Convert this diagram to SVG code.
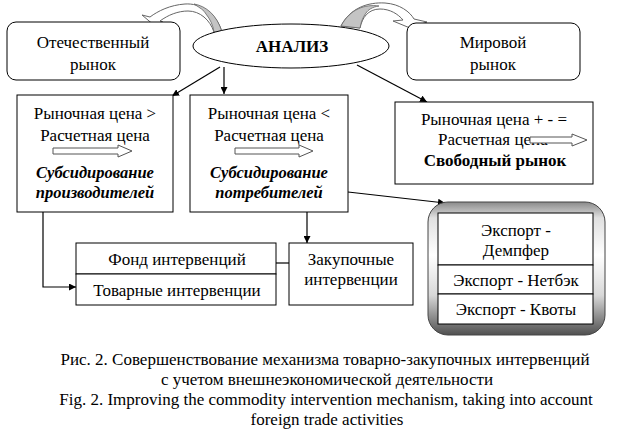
<svg xmlns="http://www.w3.org/2000/svg" width="629" height="444" viewBox="0 0 629 444" font-family="'Liberation Serif','DejaVu Serif',serif">
<defs>
<style>
text{font-family:'Liberation Serif','DejaVu Serif',serif;font-size:17px;fill:#000}
.b{font-weight:bold}
.bi{font-weight:bold;font-style:italic;font-size:16.5px}
.c{text-anchor:middle}
.box{fill:#fff;stroke:#000;stroke-width:1}
.ln{fill:none;stroke:#000;stroke-width:1.2}
.ha{fill:#fff;stroke:#555;stroke-width:1}
.ca{fill:#fff;stroke:#666;stroke-width:1}
.cg{fill:#c4c4c4;stroke:#666;stroke-width:0.8}
.cap{font-size:17px}
</style>
<marker id="ah" viewBox="0 0 10 10" refX="10" refY="5" markerWidth="7" markerHeight="7" orient="auto" markerUnits="userSpaceOnUse">
<path d="M0,0 L10,5 L0,10 Z" fill="#000"/>
</marker>
<linearGradient id="eg" x1="0" y1="0" x2="0" y2="1">
<stop offset="0" stop-color="#8a8a8a"/>
<stop offset="0.12" stop-color="#e0e0e0"/>
<stop offset="0.4" stop-color="#ffffff"/>
<stop offset="0.7" stop-color="#d8d8d8"/>
<stop offset="1" stop-color="#505050"/>
</linearGradient>
</defs>

<g id="curved-arrows">
<path class="ca" d="M222,32 C216,12 200,3 185,4 C170,5 158,11 150,17 L142,15 L155,26 L163,22 L160,21 C168,15 178,11 188,11 C200,11 210,20 214,32 Z"/>
<path class="cg" d="M222,32 C217,15 206,6 194,4 C200,8 204,10 206,14 C210,19 213,25 214,32 Z"/>
<path class="ca" d="M341,26 C350,8 368,2 385,3 C400,4 410,12 414,19 L427,22 L410,28 L393,21 L403,20 C398,14 390,9 380,9 C368,9 362,18 360,28 Z"/>
<path class="cg" d="M341,26 C350,9 365,4 379,6 C372,7 368,10 366,13 C363,17 361,22 360,28 Z"/>
</g>

<g id="domestic">
<rect class="box" x="7" y="22" width="173" height="58" rx="9"/>
<text class="c" x="93" y="48">Отечественный</text>
<text class="c" x="93" y="70">рынок</text>
</g>

<g id="world">
<rect class="box" x="407" y="23" width="173" height="57" rx="9"/>
<text class="c" x="493" y="48">Мировой</text>
<text class="c" x="493" y="70">рынок</text>
</g>

<g id="connectors">
<line class="ln" x1="220" y1="67" x2="172" y2="96" marker-end="url(#ah)"/>
<line class="ln" x1="224" y1="67" x2="224" y2="94" marker-end="url(#ah)"/>
<line class="ln" x1="357" y1="65" x2="427" y2="102" marker-end="url(#ah)"/>
<line class="ln" x1="348" y1="192" x2="445" y2="203" marker-end="url(#ah)"/>
<line class="ln" x1="307" y1="212" x2="307" y2="243" marker-end="url(#ah)"/>
<polyline class="ln" points="43,212 43,287 76,287" marker-end="url(#ah)"/>
<line class="ln" x1="276" y1="263" x2="289" y2="263"/>
</g>

<g id="analysis">
<ellipse cx="291" cy="46" rx="98" ry="22" fill="#fff" stroke="#000" stroke-width="1"/>
<text class="c b" x="292" y="52">АНАЛИЗ</text>
</g>

<g id="producers">
<rect class="box" x="17" y="95" width="156" height="117"/>
<text class="c" x="95" y="119">Рыночная цена &gt;</text>
<text class="c" x="95" y="141">Расчетная цена</text>
<path class="ha" d="M53,148 L118,148 L118,145 L132,151 L118,157 L118,154 L53,154 Z"/>
<text class="c bi" x="95" y="178">Субсидирование</text>
<text class="c bi" x="95" y="198">производителей</text>
</g>

<g id="consumers">
<rect class="box" x="190" y="95" width="158" height="117"/>
<text class="c" x="269" y="119">Рыночная цена &lt;</text>
<text class="c" x="269" y="141">Расчетная цена</text>
<path class="ha" d="M235,148 L299,148 L299,145 L313,151 L299,157 L299,154 L235,154 Z"/>
<text class="c bi" x="269" y="178">Субсидирование</text>
<text class="c bi" x="269" y="198">потребителей</text>
</g>

<g id="free-market">
<rect class="box" x="395" y="102" width="198" height="82"/>
<text class="c" x="494" y="125">Рыночная цена + - =</text>
<text x="438" y="145">Расчетная цена</text>
<path class="ha" d="M530,137 L572,137 L572,134 L587,140 L572,146 L572,143 L530,143 Z"/>
<text class="c b" x="495" y="166">Свободный рынок</text>
</g>

<g id="export">
<rect x="428" y="202" width="177" height="133" rx="20" fill="url(#eg)" stroke="#444" stroke-width="1"/>
<rect class="box" x="438" y="213" width="155" height="52"/>
<rect class="box" x="438" y="265" width="155" height="29"/>
<rect class="box" x="438" y="294" width="155" height="30"/>
<text class="c" x="516" y="236">Экспорт -</text>
<text class="c" x="516" y="256">Демпфер</text>
<text class="c" x="516" y="286">Экспорт - Нетбэк</text>
<text class="c" x="516" y="315">Экспорт - Квоты</text>
</g>

<g id="fund">
<rect class="box" x="76" y="243" width="200" height="31"/>
<rect class="box" x="76" y="274" width="200" height="31"/>
<text class="c" x="177" y="265">Фонд интервенций</text>
<text class="c" x="177" y="296">Товарные интервенции</text>
</g>

<g id="purchase">
<rect class="box" x="289" y="243" width="124" height="62"/>
<text class="c" x="351" y="265">Закупочные</text>
<text class="c" x="351" y="285">интервенции</text>
</g>

<g id="caption">
<text class="c cap" x="325" y="365">Рис. 2. Совершенствование механизма товарно-закупочных интервенций</text>
<text class="c cap" x="327" y="385">с учетом внешнеэкономической деятельности</text>
<text class="c cap" x="326" y="405">Fig. 2. Improving the commodity intervention mechanism, taking into account</text>
<text class="c cap" x="327" y="425">foreign trade activities</text>
</g>
</svg>
